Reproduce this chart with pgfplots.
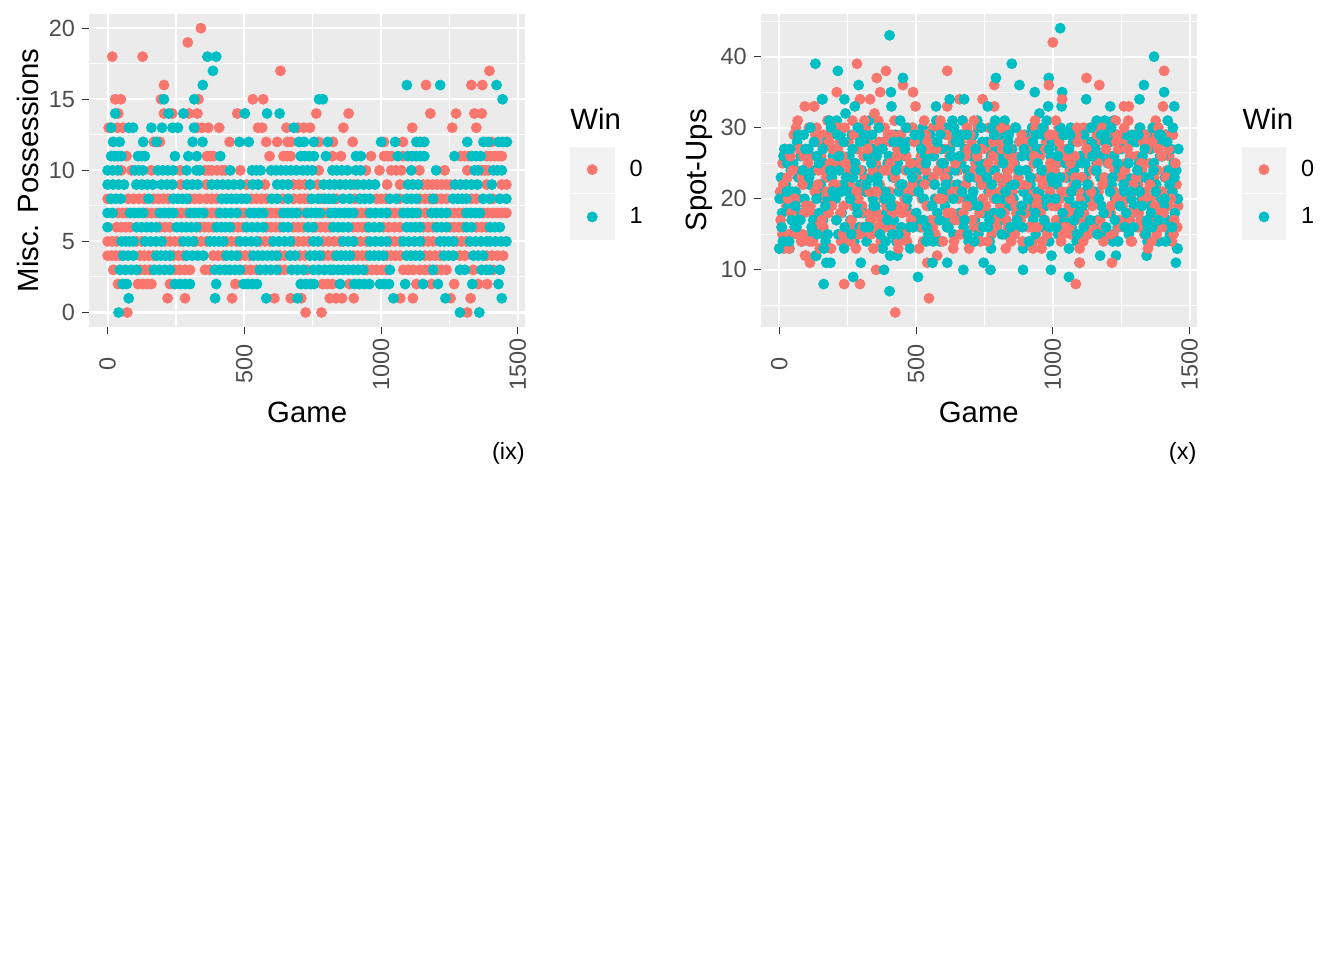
\documentclass[border=0pt]{standalone}
\usepackage{fontspec}
\setmainfont{Liberation Sans}
\usepackage{pgfplots}
\pgfplotsset{compat=1.18}
\definecolor{ggred}{HTML}{F8766D}
\definecolor{ggteal}{HTML}{00BFC4}
\definecolor{panel}{HTML}{EBEBEB}
\definecolor{keybg}{HTML}{F2F2F2}
\definecolor{ticklab}{HTML}{4D4D4D}
\definecolor{tickcol}{HTML}{333333}
\pgfplotsset{
  ggkey/.style={legend image code/.code={\fill[keybg] (0pt,-11.25pt) rectangle (21.85pt,11.25pt); \draw[##1] plot coordinates {(10.925pt,0pt)};}},
  ggaxis/.style={
    scale only axis, width=217.85pt, height=156.35pt,
    axis background/.style={fill=panel},
    axis line style={draw=none},
    tick pos=left, tick align=outside,
    major tick length=3.67pt, minor tick length=0pt,
    tick style={tickcol, line width=0.55pt},
    grid=both,
    major grid style={white, line width=1.07pt},
    minor grid style={white, line width=0.53pt},
    xmin=-67, xmax=1526,
    xtick={0,500,1000,1500}, xticklabels={0,500,1000,1500},
    minor xtick={250,750,1250},
    /pgf/number format/assume math mode=true,
    tick label style={font=\fontsize{11.73}{14}\selectfont, text=ticklab},
    x tick label style={yshift=-15pt, rotate=90, anchor=center, inner sep=0pt},
    y tick label style={anchor=east, inner sep=0pt, xshift=-3.3pt},
    xlabel={Game},
    every axis x label/.style={at={(axis description cs:0.5,-0.2728)}, anchor=center, font=\fontsize{14.67}{17}\selectfont},
    every axis y label/.style={at={(axis description cs:-0.1407,0.5)}, rotate=90, anchor=center, font=\fontsize{14.67}{17}\selectfont},
    legend style={draw=none, fill=none, inner sep=0pt, outer sep=0pt,
      at={(axis description cs:1.1033,0.5756)}, anchor=north west,
      row sep=0.75pt, column sep=5.5pt, font=\fontsize{11.73}{14}\selectfont},
    legend cell align=left,
  },
  redpts/.style={only marks, mark=*, mark size=2.5pt, color=ggred, ggkey},
  tealpts/.style={only marks, mark=*, mark size=2.5pt, color=ggteal, ggkey},
}
\begin{document}
\begin{tikzpicture}
\path[use as bounding box] (0,0) rectangle (672pt,-480pt);
% ---------------- left panel (ix)
\begin{axis}[ggaxis, at={(44.65pt,-7pt)}, anchor=north west,
  ymin=-1, ymax=21, ytick={0,5,10,15,20}, yticklabels={0,5,10,15,20},
  minor ytick={2.5,7.5,12.5,17.5}, ylabel={Misc. Possessions}]
\addplot[redpts] coordinates {
(341,20) (293,19) (17,18) (128,18) (632,17) (1396,17)
(206,16) (1164,16) (1330,16) (1370,16)
(28,15) (48,15) (195,15) (332,15) (531,15) (569,15)
(39,14) (206,14) (236,14) (297,14) (328,14) (474,14) (763,14) (881,14) (1180,14) (1274,14) (1341,14) (1368,14)
(4,13) (36,13) (56,13) (327,13) (345,13) (368,13) (408,13) (550,13) (565,13) (654,13) (695,13) (717,13) (740,13) (862,13) (1114,13) (1260,13) (1348,13)
(169,12) (191,12) (446,12) (580,12) (620,12) (658,12) (669,12) (772,12) (824,12) (896,12) (1010,12) (1080,12) (1404,12)
(69,11) (363,11) (375,11) (387,11) (592,11) (643,11) (656,11) (669,11) (822,11) (853,11) (963,11) (1011,11) (1024,11) (1037,11) (1080,11) (1290,11) (1305,11) (1320,11) (1386,11) (1400,11) (1415,11) (1430,11) (1441,11)
(50,10) (87,10) (160,10) (265,10) (356,10) (369,10) (381,10) (400,10) (418,10) (430,10) (485,10) (772,10) (945,10) (994,10) (1037,10) (1055,10) (1074,10) (1140,10) (1232,10) (1315,10) (1368,10) (1380,10) (1392,10)
(268,9) (362,9) (508,9) (575,9) (680,9) (700,9) (722,9) (768,9) (900,9) (1022,9) (1069,9) (1153,9) (1170,9) (1187,9) (1204,9) (1221,9) (1238,9) (1252,9) (1386,9) (1441,9) (1458,9)
(0,8) (75,8) (95,8) (115,8) (135,8) (167,8) (185,8) (203,8) (221,8) (300,8) (318,8) (337,8) (362,8) (380,8) (398,8) (526,8) (545,8) (563,8) (581,8) (640,8) (680,8) (703,8) (720,8) (733,8) (782,8) (837,8) (904,8) (983,8) (1000,8) (1019,8) (1068,8) (1141,8) (1160,8) (1178,8) (1202,8) (1220,8) (1239,8) (1330,8) (1348,8) (1409,8)
(39,7) (55,7) (69,7) (143,7) (161,7) (179,7) (252,7) (270,7) (289,7) (360,7) (380,7) (399,7) (484,7) (500,7) (581,7) (597,7) (614,7) (630,7) (703,7) (721,7) (788,7) (805,7) (910,7) (928,7) (947,7) (1032,7) (1050,7) (1069,7) (1140,7) (1163,7) (1251,7) (1267,7) (1284,7) (1300,7) (1373,7) (1390,7) (1407,7) (1424,7) (1441,7) (1458,7)
(33,6) (50,6) (66,6) (82,6) (191,6) (210,6) (228,6) (338,6) (354,6) (370,6) (386,6) (459,6) (477,6) (496,6) (581,6) (597,6) (614,6) (630,6) (679,6) (697,6) (715,6) (760,6) (778,6) (796,6) (813,6) (898,6) (915,6) (931,6) (947,6) (1008,6) (1028,6) (1049,6) (1069,6) (1154,6) (1172,6) (1190,6) (1251,6) (1267,6) (1284,6) (1300,6) (1349,6) (1367,6) (1385,6)
(0,5) (16,5) (33,5) (106,5) (124,5) (210,5) (228,5) (246,5) (264,5) (322,5) (342,5) (362,5) (435,5) (453,5) (472,5) (557,5) (575,5) (594,5) (679,5) (697,5) (716,5) (735,5) (788,5) (808,5) (829,5) (849,5) (904,5) (925,5) (947,5) (1032,5) (1050,5) (1069,5) (1154,5) (1172,5) (1190,5) (1276,5) (1294,5) (1312,5)
(0,4) (15,4) (30,4) (45,4) (118,4) (134,4) (150,4) (167,4) (240,4) (258,4) (277,4) (386,4) (404,4) (423,4) (484,4) (502,4) (520,4) (630,4) (648,4) (703,4) (722,4) (788,4) (806,4) (825,4) (898,4) (914,4) (931,4) (947,4) (1020,4) (1036,4) (1053,4) (1069,4) (1160,4) (1178,4) (1197,4) (1215,4) (1288,4) (1306,4) (1385,4) (1405,4) (1425,4) (1446,4)
(21,3) (118,3) (136,3) (155,3) (246,3) (264,3) (283,3) (301,3) (356,3) (374,3) (502,3) (523,3) (545,3) (630,3) (648,3) (730,3) (947,3) (965,3) (983,3) (1002,3) (1020,3) (1081,3) (1099,3) (1117,3) (1142,3) (1160,3) (1178,3) (1203,3) (1221,3) (1239,3) (1337,3) (1410,3)
(38,2) (111,2) (128,2) (145,2) (160,2) (228,2) (467,2) (786,2) (804,2) (822,2) (884,2) (1129,2) (1184,2) (1267,2) (1355,2) (1388,2)
(219,1) (283,1) (455,1) (610,1) (669,1) (708,1) (812,1) (835,1) (857,1) (900,1) (1070,1) (1116,1) (1254,1) (1327,1)
(72,0) (724,0) (782,0) (1315,0)
};
\addlegendentry{0}
\addplot[tealpts] coordinates {
(365,18) (397,18) (385,17)
(348,16) (1094,16) (1216,16) (1422,16)
(206,15) (317,15) (773,15) (787,15) (1444,15)
(28,14) (223,14) (277,14) (502,14) (583,14) (629,14)
(13,13) (78,13) (93,13) (160,13) (199,13) (237,13) (257,13) (316,13) (681,13)
(20,12) (44,12) (130,12) (179,12) (311,12) (347,12) (482,12) (516,12) (700,12) (718,12) (754,12) (805,12) (1000,12) (1051,12) (1129,12) (1143,12) (1158,12) (1315,12) (1374,12) (1392,12) (1429,12) (1445,12) (1460,12)
(13,11) (25,11) (38,11) (50,11) (111,11) (124,11) (136,11) (246,11) (295,11) (326,11) (412,11) (706,11) (720,11) (737,11) (754,11) (798,11) (908,11) (926,11) (1061,11) (1098,11) (1113,11) (1128,11) (1143,11) (1158,11) (1268,11) (1331,11) (1347,11) (1364,11)
(0,10) (18,10) (37,10) (99,10) (114,10) (129,10) (184,10) (202,10) (220,10) (239,10) (289,10) (325,10) (337,10) (448,10) (528,10) (544,10) (559,10) (598,10) (616,10) (634,10) (652,10) (670,10) (690,10) (714,10) (730,10) (748,10) (822,10) (838,10) (856,10) (877,10) (908,10) (925,10) (1110,10) (1201,10) (1342,10) (1355,10) (1410,10) (1425,10) (1441,10)
(0,9) (20,9) (40,9) (60,9) (105,9) (125,9) (145,9) (165,9) (197,9) (217,9) (237,9) (290,9) (310,9) (330,9) (381,9) (401,9) (421,9) (441,9) (461,9) (485,9) (530,9) (550,9) (620,9) (640,9) (660,9) (740,9) (790,9) (812,9) (830,9) (850,9) (870,9) (888,9) (914,9) (936,9) (956,9) (978,9) (1098,9) (1116,9) (1135,9) (1270,9) (1290,9) (1310,9) (1330,9) (1352,9) (1405,9)
(12,8) (30,8) (48,8) (150,8) (240,8) (257,8) (274,8) (290,8) (417,8) (435,8) (453,8) (471,8) (490,8) (508,8) (600,8) (620,8) (660,8) (746,8) (770,8) (794,8) (810,8) (825,8) (861,8) (886,8) (922,8) (940,8) (959,8) (1032,8) (1056,8) (1093,8) (1111,8) (1129,8) (1190,8) (1263,8) (1280,8) (1296,8) (1312,8) (1373,8) (1397,8) (1434,8) (1458,8)
(0,7) (18,7) (82,7) (98,7) (114,7) (130,7) (191,7) (207,7) (224,7) (240,7) (301,7) (318,7) (334,7) (350,7) (411,7) (431,7) (451,7) (472,7) (520,7) (536,7) (553,7) (569,7) (642,7) (658,7) (675,7) (691,7) (730,7) (746,7) (762,7) (776,7) (815,7) (832,7) (849,7) (866,7) (882,7) (898,7) (959,7) (979,7) (1000,7) (1020,7) (1081,7) (1097,7) (1114,7) (1130,7) (1184,7) (1202,7) (1220,7) (1239,7) (1312,7) (1328,7) (1345,7) (1361,7)
(0,6) (106,6) (124,6) (142,6) (160,6) (179,6) (252,6) (270,6) (288,6) (306,6) (325,6) (399,6) (415,6) (431,6) (447,6) (508,6) (528,6) (548,6) (569,6) (642,6) (660,6) (733,6) (750,6) (825,6) (843,6) (861,6) (880,6) (955,6) (975,6) (995,6) (1093,6) (1109,6) (1126,6) (1142,6) (1203,6) (1221,6) (1239,6) (1312,6) (1330,6) (1398,6) (1416,6) (1434,6)
(51,5) (66,5) (80,5) (94,5) (137,5) (157,5) (177,5) (197,5) (277,5) (295,5) (313,5) (374,5) (390,5) (407,5) (423,5) (484,5) (504,5) (525,5) (545,5) (606,5) (626,5) (647,5) (667,5) (752,5) (770,5) (861,5) (880,5) (898,5) (959,5) (979,5) (1000,5) (1020,5) (1081,5) (1101,5) (1122,5) (1142,5) (1215,5) (1231,5) (1248,5) (1264,5) (1325,5) (1345,5) (1365,5) (1385,5) (1398,5) (1418,5) (1438,5) (1458,5)
(57,4) (75,4) (94,4) (179,4) (195,4) (212,4) (228,4) (289,4) (309,4) (330,4) (350,4) (435,4) (453,4) (472,4) (533,4) (550,4) (567,4) (584,4) (601,4) (618,4) (667,4) (685,4) (740,4) (758,4) (776,4) (837,4) (853,4) (870,4) (886,4) (959,4) (975,4) (992,4) (1008,4) (1093,4) (1109,4) (1126,4) (1142,4) (1230,4) (1247,4) (1264,4) (1337,4) (1355,4) (1373,4)
(45,3) (65,3) (86,3) (106,3) (170,3) (189,3) (209,3) (228,3) (392,3) (410,3) (429,3) (447,3) (466,3) (484,3) (557,3) (577,3) (597,3) (618,3) (673,3) (694,3) (716,3) (752,3) (772,3) (793,3) (813,3) (825,3) (843,3) (861,3) (880,3) (898,3) (916,3) (935,3) (1032,3) (1190,3) (1288,3) (1306,3) (1367,3) (1385,3) (1398,3) (1434,3)
(55,2) (70,2) (246,2) (265,2) (283,2) (301,2) (397,2) (497,2) (513,2) (530,2) (546,2) (706,2) (725,2) (743,2) (754,2) (850,2) (902,2) (920,2) (938,2) (957,2) (996,2) (1012,2) (1029,2) (1088,2) (1153,2) (1208,2) (1333,2) (1429,2)
(77,1) (393,1) (580,1) (694,1) (1045,1) (1235,1) (1441,1)
(40,0) (1288,0) (1359,0)
};
\addlegendentry{1}
\end{axis}
% ---------------- right panel (x)
\begin{axis}[ggaxis, at={(380.5pt,-7pt)}, anchor=north west,
  ymin=2, ymax=46, ytick={10,20,30,40}, yticklabels={10,20,30,40},
  minor ytick={5,15,25,35,45}, ylabel={Spot-Ups}]
\addplot[redpts] coordinates {
(3,21) (8,16) (12,25) (17,13) (21,27) (26,19)
(53,29) (58,17) (62,24) (67,31) (71,20) (76,27)
(103,23) (108,30) (112,11) (117,26) (121,18) (126,33)
(153,26) (158,20) (162,29) (167,15) (171,23) (176,31)
(203,24) (208,17) (212,25) (217,21) (221,28) (226,14)
(253,28) (258,22) (262,16) (267,31) (271,19) (276,25)
(303,19) (308,26) (312,23) (317,30) (321,15) (326,28)
(353,25) (358,18) (362,31) (367,22) (371,14) (376,27)
(403,21) (408,28) (412,16) (417,24) (421,31) (426,19)
(453,27) (458,20) (462,24) (467,14) (471,30) (476,18)
(503,23) (508,29) (512,17) (517,26) (521,20) (526,14)
(553,26) (558,19) (562,30) (567,22) (571,15) (576,28)
(603,20) (608,27) (612,24) (617,16) (621,30) (626,22)
(653,24) (658,17) (662,28) (667,21) (671,31) (676,15)
(703,28) (708,21) (712,16) (717,25) (721,19) (726,30)
(753,22) (758,27) (762,18) (767,30) (771,24) (776,15)
(803,25) (808,19) (812,28) (817,22) (821,15) (826,30)
(853,21) (858,26) (862,30) (867,18) (871,24) (876,16)
(903,18) (908,24) (912,29) (917,21) (921,27) (926,14)
(953,26) (958,20) (962,23) (967,30) (971,17) (976,28)
(1003,22) (1008,29) (1012,17) (1017,25) (1021,30) (1026,20)
(1053,27) (1058,19) (1062,24) (1067,15) (1071,29) (1076,22)
(1103,20) (1108,25) (1112,30) (1117,17) (1121,23) (1126,28)
(1153,24) (1158,16) (1162,28) (1167,21) (1171,26) (1176,19)
(1203,29) (1208,22) (1212,18) (1217,26) (1221,15) (1226,24)
(1253,23) (1258,28) (1262,16) (1267,25) (1271,20) (1276,31)
(1303,19) (1308,26) (1312,22) (1317,30) (1321,17) (1326,24)
(1353,25) (1358,20) (1362,29) (1367,17) (1371,23) (1376,31)
(1403,21) (1408,28) (1412,16) (1417,24) (1421,19) (1426,26)
(1452,22) (1455,16) (1458,19)
(284,39) (390,38) (614,38) (356,37) (210,35) (369,35) (489,35) (452,36) (295,34) (332,34) (659,34) (743,34) (786,33) (93,33) (128,33) (614,33) (786,36)
(237,8) (295,8) (424,4) (547,6) (354,10) (541,11) (577,12) (98,12) (0,13)
};
\addlegendentry{0}
\addplot[tealpts] coordinates {
(1,20) (6,23) (10,18) (15,26) (19,15) (24,22) (28,25) (33,19) (37,13) (42,24) (46,21)
(51,25) (56,16) (60,21) (65,28) (69,23) (74,18) (78,26) (83,14) (87,22) (92,20) (96,24)
(101,19) (106,27) (110,22) (115,15) (119,30) (124,17) (128,24) (133,12) (137,26) (142,21) (146,18)
(151,22) (156,34) (160,17) (165,25) (169,14) (174,28) (178,20) (183,31) (187,11) (192,23) (196,26)
(201,27) (206,20) (210,31) (215,15) (219,24) (224,29) (228,18) (233,22) (237,13) (242,32) (246,25)
(251,21) (256,26) (260,17) (265,29) (269,23) (274,14) (278,25) (283,19) (287,30) (292,16) (296,22)
(301,24) (306,18) (310,28) (315,21) (319,14) (324,26) (328,31) (333,17) (337,23) (342,20) (346,27)
(351,19) (356,26) (360,22) (365,30) (369,16) (374,24) (378,13) (383,28) (387,21) (392,18) (396,25)
(401,26) (406,20) (410,33) (415,23) (419,17) (424,29) (428,14) (433,25) (437,21) (442,31) (446,16)
(451,22) (456,15) (460,26) (465,19) (469,28) (474,24) (478,13) (483,21) (487,30) (492,17) (496,25)
(501,18) (506,24) (510,28) (515,16) (519,22) (524,30) (528,20) (533,26) (537,14) (542,23) (546,19)
(551,29) (556,23) (560,16) (565,26) (569,20) (574,31) (578,18) (583,24) (587,14) (592,27) (596,21)
(601,25) (606,19) (610,30) (615,23) (619,17) (624,27) (628,21) (633,31) (637,15) (642,24) (646,29)
(651,22) (656,28) (660,18) (665,25) (669,31) (674,16) (678,27) (683,20) (687,24) (692,14) (696,19)
(701,26) (706,20) (710,29) (715,17) (719,23) (724,31) (728,15) (733,25) (737,22) (742,28) (746,18)
(751,19) (756,25) (760,28) (765,21) (769,14) (774,26) (778,30) (783,18) (787,24) (792,27) (796,16)
(801,23) (806,29) (810,17) (815,26) (819,20) (824,31) (828,15) (833,24) (837,28) (842,19) (846,22)
(851,27) (856,20) (860,25) (865,30) (869,16) (874,23) (878,28) (883,18) (887,26) (892,21) (896,29)
(901,24) (906,28) (910,19) (915,26) (919,22) (924,30) (928,17) (933,25) (937,15) (942,27) (946,21)
(951,21) (956,27) (960,16) (965,29) (969,24) (974,19) (978,31) (983,22) (987,14) (992,26) (996,28)
(1001,28) (1006,24) (1010,19) (1015,22) (1019,15) (1024,27) (1028,30) (1033,21) (1037,26) (1042,17) (1046,25)
(1051,23) (1056,26) (1060,20) (1065,30) (1069,16) (1074,28) (1078,24) (1083,19) (1087,14) (1092,25) (1096,29)
(1101,26) (1106,18) (1110,23) (1115,29) (1119,21) (1124,15) (1128,27) (1133,24) (1137,20) (1142,28) (1146,30)
(1151,21) (1156,27) (1160,25) (1165,17) (1169,30) (1174,23) (1178,19) (1183,26) (1187,15) (1192,28) (1196,22)
(1201,25) (1206,18) (1210,28) (1215,22) (1219,14) (1224,26) (1228,20) (1233,29) (1237,16) (1242,24) (1246,27)
(1251,27) (1256,21) (1260,24) (1265,17) (1269,29) (1274,23) (1278,15) (1283,26) (1287,20) (1292,28) (1296,19)
(1301,22) (1306,28) (1310,18) (1315,25) (1319,30) (1324,20) (1328,26) (1333,16) (1337,23) (1342,29) (1346,14)
(1351,23) (1356,27) (1360,19) (1365,30) (1369,25) (1374,16) (1378,22) (1383,28) (1387,14) (1392,26) (1396,20)
(1401,26) (1406,19) (1410,23) (1415,29) (1419,17) (1424,24) (1428,15) (1433,27) (1437,21) (1442,25) (1446,18)
(1451,24) (1454,13) (1457,20) (1459,27)
(403,43) (132,39) (214,38) (452,37) (290,36) (408,35) (158,34) (238,34) (623,34) (676,34) (762,33) (276,33) (573,33)
(162,8) (270,9) (403,7) (507,9) (172,11) (383,10) (298,11) (673,10) (772,10) (747,11) (560,11) (614,11) (405,12) (432,12) (135,12) (0,13)
(1027,44) (1370,40) (850,39) (792,37) (985,37) (878,36) (934,35) (1407,35) (1333,36) (1317,34) (1034,35) (1122,34) (983,33) (1032,33) (951,32) (1210,33) (1444,33) (1420,31) (1160,31) (1190,31) (1222,31)
(891,10) (993,10) (1059,9) (1098,11) (1173,12) (1231,12) (1343,12) (1450,11) (1456,13) (774,13) (891,13) (1059,13) (995,12)
};
\addlegendentry{1}
\addplot[redpts, forget plot] coordinates {
(30,23) (35,15) (39,26) (44,18) (48,24)
(80,14) (85,22) (89,26) (94,12) (98,19)
(130,21) (135,16) (139,28) (144,24) (148,13)
(180,18) (185,25) (189,13) (194,27) (198,22)
(230,26) (235,19) (239,30) (244,23) (248,16)
(280,13) (285,27) (289,20) (294,24) (298,18)
(330,21) (335,17) (339,25) (344,13) (348,32)
(380,20) (385,30) (389,16) (394,24) (398,29)
(430,26) (435,13) (439,22) (444,29) (448,18)
(480,25) (485,22) (489,16) (494,28) (498,33)
(530,31) (535,24) (539,19) (544,27) (548,15)
(580,24) (585,17) (589,31) (594,20) (598,14)
(630,18) (635,28) (639,14) (644,25) (648,21)
(680,26) (685,19) (689,23) (694,13) (698,29)
(730,23) (735,14) (739,27) (744,20) (748,24)
(780,26) (785,20) (789,29) (794,16) (798,23)
(830,17) (835,24) (839,27) (844,20) (848,14)
(880,28) (885,22) (889,14) (894,27) (898,19)
(930,25) (935,31) (939,20) (944,16) (948,23)
(980,15) (985,24) (989,21) (994,29) (998,19)
(1030,14) (1035,27) (1039,23) (1044,18) (1048,26)
(1080,26) (1085,17) (1089,30) (1094,21) (1098,13)
(1130,15) (1135,26) (1139,21) (1144,19) (1148,24)
(1180,30) (1185,14) (1189,23) (1194,27) (1198,18)
(1230,31) (1235,20) (1239,27) (1244,17) (1248,23)
(1280,18) (1285,26) (1289,14) (1294,22) (1298,29)
(1330,28) (1335,15) (1339,21) (1344,27) (1348,13)
(1380,15) (1385,27) (1389,21) (1394,18) (1398,26)
(1430,22) (1435,14) (1439,29) (1444,17) (1448,25)
(1000,42) (1407,38) (985,36) (1034,34) (1123,37) (1170,36) (1260,33) (1278,33) (1403,33)
(1084,8) (1098,11) (1216,11) (828,13) (928,13) (959,13)
(5,17) (14,22) (23,14) (32,20) (41,26)
(55,20) (64,15) (73,27) (82,23) (91,18)
(105,25) (114,19) (123,14) (132,29) (141,22)
(155,17) (164,24) (173,21) (182,28) (191,19)
(205,22) (214,27) (223,18) (232,15) (241,25)
(255,24) (264,17) (273,29) (282,21) (291,15)
(305,16) (314,22) (323,27) (332,18) (341,24)
(355,21) (364,28) (373,17) (382,24) (391,19)
(405,25) (414,18) (423,23) (432,27) (441,15)
(455,19) (464,26) (473,21) (482,17) (491,23)
(505,21) (514,25) (523,16) (532,22) (541,28)
(555,17) (564,23) (573,27) (582,20) (591,25)
(605,23) (614,18) (623,26) (632,21) (641,17)
(655,20) (664,26) (673,18) (682,22) (691,27)
(705,17) (714,24) (723,26) (732,18) (741,22)
(755,19) (764,25) (773,21) (782,28) (791,17)
(805,21) (814,27) (823,18) (832,23) (841,26)
(855,25) (864,19) (873,23) (882,17) (891,28)
(905,22) (914,28) (923,16) (932,26) (941,19)
(955,18) (964,22) (973,27) (982,20) (991,25)
(1005,24) (1014,19) (1023,28) (1032,21) (1041,16)
(1055,21) (1064,25) (1073,18) (1082,23) (1091,28)
(1105,23) (1114,18) (1123,27) (1132,22) (1141,16)
(1155,20) (1164,25) (1173,17) (1182,22) (1191,29)
(1205,25) (1214,19) (1223,21) (1232,28) (1241,16)
(1255,19) (1264,24) (1273,27) (1282,17) (1291,21)
(1305,23) (1314,18) (1323,25) (1332,20) (1341,15)
(1355,22) (1364,28) (1373,19) (1382,24) (1391,16)
(1405,18) (1414,23) (1423,27) (1432,20) (1441,15)
(11,15) (36,13) (61,30) (86,15) (111,14) (136,30) (161,16) (186,29) (211,30) (236,15)
(261,14) (286,29) (311,31) (336,15) (361,16) (386,28) (411,29) (436,14) (461,15) (486,30)
(511,13) (536,29) (561,16) (586,30) (611,29) (636,13) (661,15) (686,30) (711,31) (736,16)
(761,14) (786,29) (811,30) (836,16) (861,15) (886,29) (911,16) (936,30) (961,14) (986,29)
(1011,31) (1036,15) (1061,16) (1086,29) (1111,14) (1136,30) (1161,29) (1186,16) (1211,15) (1236,29)
(1261,30) (1286,14) (1311,16) (1336,29) (1361,14) (1386,30) (1411,29) (1436,16)
};
\addplot[tealpts, forget plot] coordinates {
(9,16) (18,27) (27,21) (36,14) (45,17)
(59,19) (68,29) (77,17) (86,24) (95,27)
(109,23) (118,16) (127,28) (136,20) (145,25)
(159,27) (168,19) (177,15) (186,24) (195,21)
(209,17) (218,26) (227,21) (236,28) (245,23)
(259,20) (268,27) (277,24) (286,18) (295,28)
(309,29) (318,22) (327,16) (336,25) (345,19)
(359,23) (368,15) (377,27) (386,20) (395,17)
(409,19) (418,28) (427,24) (436,15) (445,22)
(459,27) (468,20) (477,16) (486,23) (495,29)
(509,21) (518,27) (527,17) (536,25) (545,15)
(559,19) (568,22) (577,28) (586,17) (595,25)
(609,22) (618,16) (627,26) (636,20) (645,28)
(659,26) (668,21) (677,17) (686,29) (695,23)
(709,21) (718,27) (727,19) (736,24) (745,16)
(759,23) (768,17) (777,22) (786,29) (795,20)
(809,18) (818,25) (827,21) (836,27) (845,16)
(859,22) (868,17) (877,24) (886,19) (895,27)
(909,20) (918,23) (927,28) (936,18) (945,25)
(959,24) (968,17) (977,20) (986,27) (995,23)
(1009,20) (1018,26) (1027,23) (1036,18) (1045,29)
(1059,27) (1068,21) (1077,17) (1086,22) (1095,18)
(1109,19) (1118,25) (1127,22) (1136,17) (1145,26)
(1159,24) (1168,20) (1177,29) (1186,18) (1195,16)
(1209,21) (1218,23) (1227,17) (1236,25) (1245,19)
(1259,22) (1268,18) (1277,25) (1286,21) (1295,16)
(1309,24) (1318,21) (1327,19) (1336,27) (1345,17)
(1359,18) (1368,24) (1377,21) (1386,17) (1395,29)
(1409,20) (1418,28) (1427,22) (1436,16) (1445,23)
(13,14) (39,27) (63,16) (89,29) (113,30) (139,15) (163,13) (189,30) (213,29) (239,16)
(263,15) (289,30) (313,16) (339,29) (363,30) (389,14) (413,15) (439,28) (463,30) (489,16)
(513,29) (539,16) (563,14) (589,29) (613,16) (639,30) (663,29) (689,15) (713,14) (739,30)
(763,16) (789,31) (813,15) (839,29) (863,30) (889,16) (913,14) (939,29) (963,30) (989,16)
(1013,16) (1039,29) (1063,29) (1089,15) (1113,16) (1139,30) (1163,15) (1189,29) (1213,30) (1239,14)
(1263,16) (1289,29) (1313,29) (1339,15) (1363,16) (1389,29) (1413,14) (1439,30)
};
\end{axis}
% legend titles and tags
\node[anchor=west, inner sep=0pt, font=\fontsize{14.67}{17}\selectfont] at (285pt,-59.6pt) {Win};
\node[anchor=west, inner sep=0pt, font=\fontsize{14.67}{17}\selectfont] at (621.15pt,-59.6pt) {Win};
\node[anchor=east, inner sep=0pt, font=\fontsize{11.73}{14}\selectfont] at (262.5pt,-226.5pt) {(ix)};
\node[anchor=east, inner sep=0pt, font=\fontsize{11.73}{14}\selectfont] at (598.35pt,-226.5pt) {(x)};
\end{tikzpicture}
\end{document}
